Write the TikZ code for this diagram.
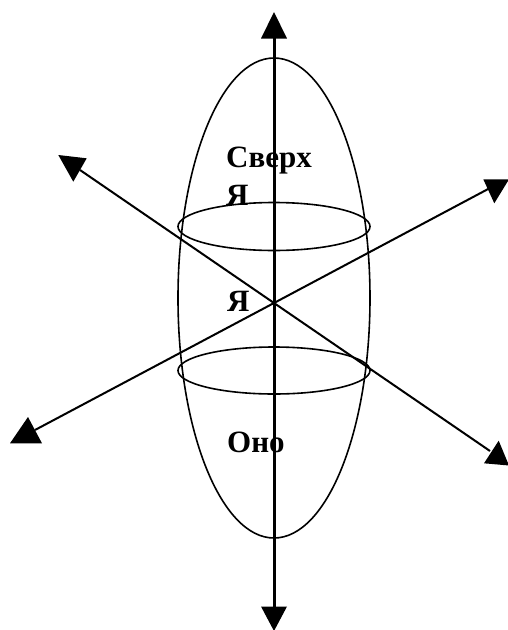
\documentclass[tikz,border=0pt]{standalone}
\usepackage{fontspec}
\setmainfont{Liberation Serif}
\begin{document}
\begin{tikzpicture}[x=1pt,y=-1pt,
  lbl/.style={anchor=base west,inner sep=0pt,font=\fontsize{31}{36}\selectfont\bfseries},
  axis/.style={line width=3pt},
  diag/.style={line width=2pt},
  shell/.style={line width=1.6pt},
  tip/.style={fill=black,draw=none}]
\useasboundingbox (0,0) rectangle (508,630);
% labels
\node[lbl] (sverh) at (226,167) {Сверх};
\node[lbl] (ya1) at (226,205) {Я};
\node[lbl] (ya2) at (227,311) {Я};
\node[lbl] (ono) at (227,452) {Оно};
% shells
\draw[shell] (274,298) ellipse [x radius=96, y radius=240];
\draw[shell] (274,226.5) ellipse [x radius=96, y radius=24];
\draw[shell] (274,370.5) ellipse [x radius=96, y radius=23.5];
% axes
\coordinate (c) at (274,303);
\coordinate (vt) at (274,38);
\coordinate (vb) at (274,607);
\draw[axis] (vt) -- (vb);
\coordinate (ul) at (80,170);
\coordinate (lr) at (490,451);
\draw[diag] (ul) -- (c) -- (lr);
\coordinate (ll) at (35,430);
\coordinate (ur) at (490,188);
\draw[diag] (ll) -- (c) -- (ur);
% arrowheads
\fill[tip] (274,12) -- (261,38.5) -- (287,38.5) -- cycle;
\fill[tip] (274,631) -- (261,606.5) -- (287,606.5) -- cycle;
\fill[tip] (58.3,155) -- (86.7,158.3) -- (73.3,181.7) -- cycle;
\fill[tip] (483.3,179.3) -- (509,179.3) -- (494.3,203.3) -- cycle;
\fill[tip] (28,417) -- (10,443.3) -- (42,443.3) -- cycle;
\fill[tip] (498.7,440.7) -- (484,463.3) -- (509,465.5) -- cycle;
\end{tikzpicture}
\end{document}
